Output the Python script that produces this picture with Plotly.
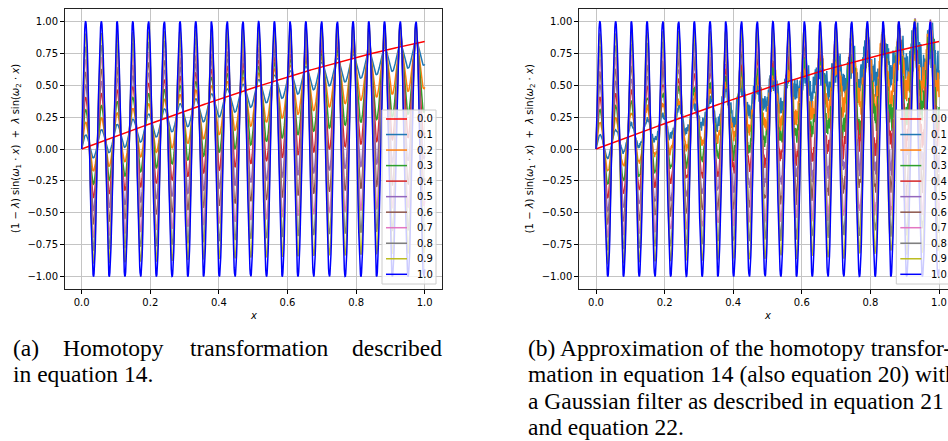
import numpy as np
import plotly.graph_objects as go

# ---- homotopy parameters -------------------------------------------------
omega_1 = 1.0
omega_2 = 137.0
lambdas = [0.0, 0.1, 0.2, 0.3, 0.4, 0.5, 0.6, 0.7, 0.8, 0.9, 1.0]
lambda_labels = ["0.0", "0.1", "0.2", "0.3", "0.4", "0.5", "0.6", "0.7", "0.8", "0.9", "1.0"]
line_colors = ["#ff0000", "#1f77b4", "#ff7f0e", "#2ca02c", "#d62728", "#9467bd",
               "#8c564b", "#e377c2", "#7f7f7f", "#bcbd22", "#0000ff"]
# spread of the Gaussian-filter approximation error at x = 1, per lambda
filter_error_scale = [0.0, 0.11, 0.095, 0.08, 0.07, 0.06, 0.05, 0.04, 0.03, 0.02, 0.0]

x_ticks = [0.0, 0.2, 0.4, 0.6, 0.8, 1.0]
y_ticks = [-1.0, -0.75, -0.5, -0.25, 0.0, 0.25, 0.5, 0.75, 1.0]
n_samples = 1000

W, H = 948, 441
x = np.linspace(0.0, 1.0, n_samples)


def homotopy(lam):
    return (1.0 - lam) * np.sin(omega_1 * x) + lam * np.sin(omega_2 * x)


# deterministic multisine (Weyl-sequence phases): finite-sample error of the filter
golden = (np.sqrt(5.0) - 1.0) / 2.0
err_freqs = np.arange(12, 460)
err_weights = (err_freqs / 12.0) ** -0.3


def filter_error(j):
    m = err_freqs.astype(float)
    phases = 2 * np.pi * ((m * m * golden + m * j * np.sqrt(2.0)) % 1.0)
    e = (err_weights * np.cos(2 * np.pi * np.outer(x, err_freqs) + phases)).sum(axis=1)
    return e / e.std()


def px(v):
    return v / W


def py(v):
    return 1.0 - v / H


# draw order: intermediate lambdas first, then the two end points on top
draw_order = list(range(1, 10)) + [0, 10]

fig = go.Figure()
for panel in (1, 2):
    for j in draw_order:
        lam = lambdas[j]
        y = homotopy(lam)
        if panel == 2:
            y = y + filter_error_scale[j] * x * filter_error(j)
        fig.add_trace(go.Scatter(
            x=x, y=y, mode="lines", name=lambda_labels[j],
            line=dict(color=line_colors[j], width=1.5),
            showlegend=False, hoverinfo="skip",
            xaxis="x" if panel == 1 else "x2",
            yaxis="y" if panel == 1 else "y2",
        ))

tick_font = dict(family="DejaVu Sans", size=10, color="#000000")
grid_col = "#c4c4c4"
frame_col = "#222222"

common_x = dict(tickvals=x_ticks, ticktext=[f"{v:.1f}" for v in x_ticks],
                showgrid=True, gridcolor=grid_col, gridwidth=1, zeroline=False,
                showline=True, linecolor=frame_col, linewidth=1,
                ticks="outside", ticklen=3.5, tickwidth=0.8, tickcolor="#000",
                tickfont=tick_font, mirror=True)
common_y = dict(tickvals=y_ticks, ticktext=[f"{v:.2f}".replace("-", "\u2212") for v in y_ticks],
                range=[-1.1, 1.1], domain=[py(289.4), py(8.6)],
                showgrid=True, gridcolor=grid_col, gridwidth=1, zeroline=False,
                showline=True, linecolor=frame_col, linewidth=1,
                ticks="outside", ticklen=3.5, tickwidth=0.8, tickcolor="#000",
                tickfont=tick_font)

# panel (a): x = 0 at 81.7 px, 343 px per unit; panel (b): x = 0 at 596 px
x0a, unit = 81.7, 343.0
x0b = 596.0

fig.update_layout(
    width=W, height=H,
    margin=dict(l=0, r=0, t=0, b=0, autoexpand=False),
    paper_bgcolor="white", plot_bgcolor="white",
    xaxis=dict(common_x, domain=[px(x0a - 0.05 * unit), px(x0a + 1.05 * unit)],
               range=[-0.05, 1.05], anchor="y"),
    yaxis=dict(common_y, anchor="x", mirror=True),
    xaxis2=dict(common_x, domain=[px(x0b - 0.05 * unit), 1.0],
                range=[-0.05, (W - x0b) / unit], anchor="y2"),
    yaxis2=dict(common_y, anchor="x2", mirror=False),
)

shapes = []
annotations = []

ylabel = ("(1 \u2212 <i>\u03bb</i>) sin(<i>\u03c9</i><sub>1</sub> \u00b7 <i>x</i>)"
          "  +  <i>\u03bb</i> sin(<i>\u03c9</i><sub>2</sub> \u00b7 <i>x</i>)")

for origin in (x0a, x0b):
    dx = origin - x0a
    # axis titles
    annotations.append(dict(text=ylabel, x=px(16 + dx), y=py(149), xref="paper", yref="paper",
                            showarrow=False, textangle=-90, xanchor="center", yanchor="middle",
                            font=dict(family="DejaVu Sans", size=10, color="#000")))
    annotations.append(dict(text="<i>x</i>", x=px(253 + dx), y=py(315), xref="paper", yref="paper",
                            showarrow=False, xanchor="center", yanchor="middle",
                            font=dict(family="DejaVu Sans", size=10, color="#000")))
    # legend box
    shapes.append(dict(type="rect", xref="paper", yref="paper", layer="above",
                       x0=px(382 + dx), x1=px(436 + dx), y0=py(284), y1=py(110),
                       fillcolor="rgba(255,255,255,0.8)", line=dict(color="#cccccc", width=1)))
    for i, lab in enumerate(lambda_labels):
        yy = 119.0 + 15.53 * i
        shapes.append(dict(type="line", xref="paper", yref="paper", layer="above",
                           x0=px(386 + dx), x1=px(407 + dx), y0=py(yy), y1=py(yy),
                           line=dict(color=line_colors[i], width=1.5)))
        annotations.append(dict(text=lab, x=px(415 + dx), y=py(yy), xref="paper", yref="paper",
                                showarrow=False, xanchor="left", yanchor="middle",
                                font=dict(family="DejaVu Sans", size=10, color="#000")))

# captions
cap_font = dict(family="Liberation Serif", size=23.5, color="#000")
cap_a_words = [("(a)", 11, "left"), ("Homotopy", 61, "left"),
               ("transformation", 188, "left"), ("described", 444, "right")]
for word, xpos, anchor in cap_a_words:
    annotations.append(dict(text=word, x=px(xpos), y=py(348), xref="paper", yref="paper",
                            showarrow=False, xanchor=anchor, yanchor="middle", font=cap_font))
annotations.append(dict(text="in equation 14.", x=px(11), y=py(374), xref="paper", yref="paper",
                        showarrow=False, xanchor="left", yanchor="middle", font=cap_font))

cap_b_lines = ["(b) Approximation of the homotopy transfor-",
               "mation in equation 14 (also equation 20) with",
               "a Gaussian filter as described in equation 21",
               "and equation 22."]
for k, line in enumerate(cap_b_lines):
    annotations.append(dict(text=line, x=px(526), y=py(348 + 26.3 * k), xref="paper", yref="paper",
                            showarrow=False, xanchor="left", yanchor="middle", font=cap_font))

fig.update_layout(shapes=shapes, annotations=annotations)
fig.write_html("out.html")
